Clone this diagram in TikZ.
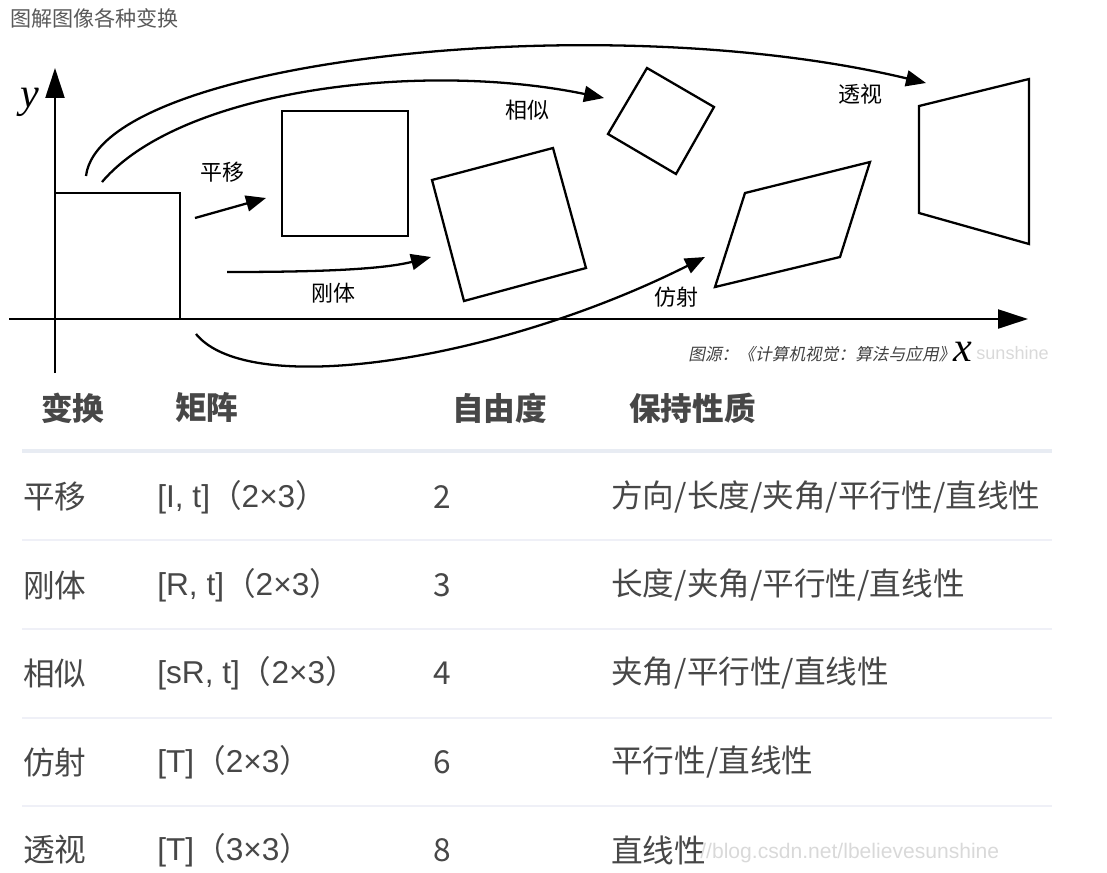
\documentclass[tikz,border=0pt]{standalone}
\usepackage{fontspec}
\setmainfont{Noto Sans CJK SC}
\newfontfamily\cjkslant{Noto Sans CJK SC}[FakeSlant=0.2]
\newfontfamily\timesfont{Liberation Serif}
\newfontfamily\arialfont{Liberation Sans}
\usepackage{tikz}
\usetikzlibrary{arrows.meta}
\definecolor{sepgray}{HTML}{E8ECF3}
\definecolor{rowgray}{HTML}{EFF0F7}
\newcommand\matcell[2]{{\arialfont #1}（{\arialfont #2}）}

\begin{document}
\begin{tikzpicture}[
    x=0.02cm, y=-0.02cm,
    quad/.style={draw, line width=1.3pt},
    axis/.style={line width=1.3pt, -{Triangle[length=6mm, width=3.8mm]}},
    tarr/.style={line width=1.3pt, -{Triangle[length=4mm, width=3.2mm]}},
    lab/.style={inner sep=0pt, font=\fontsize{12.5}{14}\selectfont},
    axlab/.style={inner sep=0pt, font=\timesfont\itshape\fontsize{24}{26}\selectfont},
    cell/.style={anchor=west, inner sep=0pt, text=black!72, font=\fontsize{18}{20}\selectfont},
    head/.style={cell, font=\fontsize{18}{20}\selectfont\bfseries},
    wm/.style={inner sep=0pt, text=gray!30, font=\arialfont\fontsize{12}{14}\selectfont},
    sepline/.style={draw=sepgray, line width=2.3pt},
    rowline/.style={draw=rowgray, line width=0.8pt},
]
\useasboundingbox (0,0) rectangle (1107,873);
\node[anchor=west, inner sep=0pt, text=black!65, font=\fontsize{12}{14}\selectfont] (title) at (10,18) {图解图像各种变换};
\coordinate (ybot) at (55,373); \coordinate (ytip) at (55,68);
\coordinate (xleft) at (9,319); \coordinate (xtip) at (1028,319);
\draw[axis] (ybot) -- (ytip);
\draw[axis] (xleft) -- (xtip);
\node[axlab] (ylab) at (30,102) {y};
\draw[quad] (55,193) rectangle (180,319);
\draw[quad] (282,111) rectangle (408,236);
\draw[quad] (432,180) -- (553,148) -- (586,268) -- (464,301) -- cycle;
\draw[quad] (608,134) -- (647,68) -- (714,107) -- (676,174) -- cycle;
\draw[quad] (745,193) -- (870,162) -- (840,257) -- (715,287) -- cycle;
\draw[quad] (919,106) -- (1029,79) -- (1029,244) -- (919,213) -- cycle;
\coordinate (t0) at (195,218); \coordinate (t1) at (266,198);
\coordinate (r0) at (227,272); \coordinate (r1) at (431,257);
\coordinate (s0) at (102,182); \coordinate (s1) at (604,98);
\coordinate (p0) at (86,176); \coordinate (p1) at (926,83);
\coordinate (a0) at (196,334); \coordinate (a1) at (705,257);
\draw[tarr] (t0) -- (t1);
\draw[tarr] (r0) .. controls (310,272) and (380,270) .. (r1);
\draw[tarr] (s0) .. controls (180,90) and (420,60) .. (s1);
\draw[tarr] (p0) .. controls (100,60) and (600,5) .. (p1);
\draw[tarr] (a0) .. controls (250,400) and (500,360) .. (a1);
\node[lab] (pingyi) at (222,172) {平移};
\node[lab] (gangti) at (333,293) {刚体};
\node[lab] (xiangsi) at (527,110) {相似};
\node[lab] (fangshe) at (676,297) {仿射};
\node[lab] (toushi) at (860,94) {透视};
\node[anchor=west, inner sep=0pt, text=black!75, font=\cjkslant\fontsize{9.5}{11}\selectfont] (src) at (688,354) {图源：《计算机视觉：算法与应用》};
\node[axlab] (xlab) at (963,352) {x};
\node[wm, anchor=west, font=\arialfont\fontsize{10.3}{12}\selectfont] (wmtop) at (976,353) {sunshine};
\node[head] (h1) at (41,408) {变换};
\node[head] (h2) at (175,408) {矩阵};
\node[head] (h3) at (452,408) {自由度};
\node[head] (h4) at (629,408) {保持性质};
\draw[sepline] (22,451) -- (1052,451);
\node[cell] (c11) at (23,497) {平移};
\node[cell] (c12) at (157,497) {\matcell{[I, t]}{2×3}};
\node[cell] (c13) at (433,497) {2};
\node[cell] (c14) at (611,497) {方向/长度/夹角/平行性/直线性};
\draw[rowline] (22,540) -- (1052,540);
\node[cell] (c21) at (23,585) {刚体};
\node[cell] (c22) at (157,585) {\matcell{[R, t]}{2×3}};
\node[cell] (c23) at (433,585) {3};
\node[cell] (c24) at (611,585) {长度/夹角/平行性/直线性};
\draw[rowline] (22,629) -- (1052,629);
\node[cell] (c31) at (23,673) {相似};
\node[cell] (c32) at (157,673) {\matcell{[sR, t]}{2×3}};
\node[cell] (c33) at (433,673) {4};
\node[cell] (c34) at (611,673) {夹角/平行性/直线性};
\draw[rowline] (22,718) -- (1052,718);
\node[cell] (c41) at (23,762) {仿射};
\node[cell] (c42) at (157,762) {\matcell{[T]}{2×3}};
\node[cell] (c43) at (433,762) {6};
\node[cell] (c44) at (611,762) {平行性/直线性};
\draw[rowline] (22,806) -- (1052,806);
\node[cell] (c51) at (23,850) {透视};
\node[cell] (c52) at (157,850) {\matcell{[T]}{3×3}};
\node[cell] (c53) at (433,850) {8};
\node[cell] (c54) at (611,850) {直线性};
\node[wm, anchor=west] (wmbot) at (700,853) {//blog.csdn.net/lbelievesunshine};
\end{tikzpicture}
\end{document}
